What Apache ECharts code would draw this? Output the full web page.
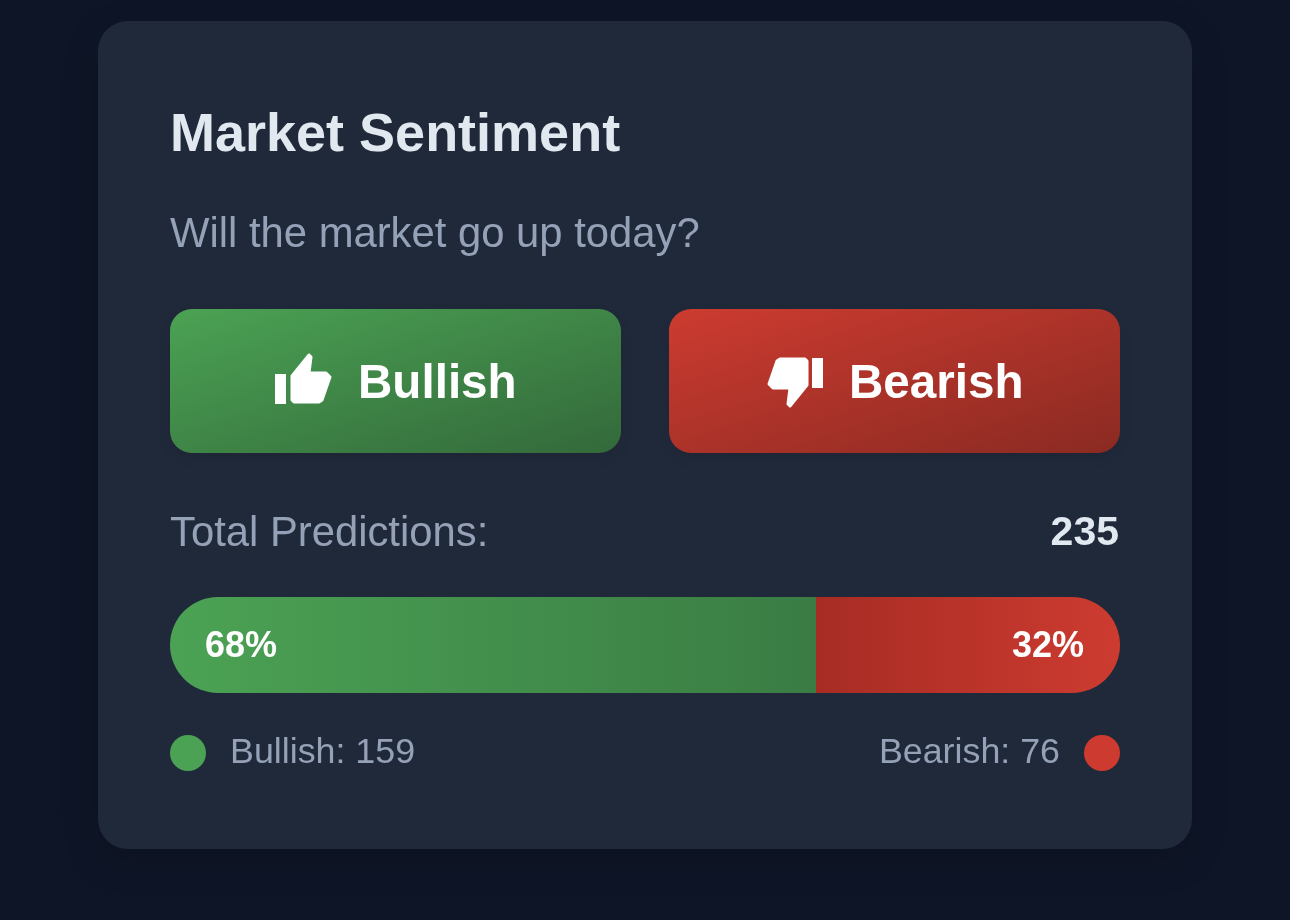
<!DOCTYPE html>
<html><head><meta charset="utf-8">
<style>html,body{margin:0;padding:0;background:#0e1526}#c{width:1290px;height:920px}</style>
<script src="https://cdn.jsdelivr.net/npm/echarts@6/dist/echarts.min.js"></script>
</head><body><div id="c"></div>
<script>
const titleText = 'Market Sentiment';
const questionText = 'Will the market go up today?';
const buttonLabels = ['Bullish', 'Bearish'];
const seriesNames = ['Bullish', 'Bearish'];
const sharePercent = [68, 32];
const voteCounts = [159, 76];
const totalLabel = 'Total Predictions:';
const totalValue = 235;

const FONT = '"Liberation Sans", Arial, sans-serif';
const grad = (x2, y2, a, b) => new echarts.graphic.LinearGradient(0, 0, x2, y2, [{offset:0,color:a},{offset:1,color:b}]);
const gradAbs = (x1, y1, x2, y2, a, b) => new echarts.graphic.LinearGradient(x1, y1, x2, y2, [{offset:0,color:a},{offset:1,color:b}], true);
const GREEN = '#4ba254', RED = '#cd3b30', MUTED = '#94a1b7', LIGHT = '#e2e8f0';
const chart = echarts.init(document.getElementById('c'), null, {renderer:'canvas', width:1290, height:920});
const txt = (x, y, text, size, weight, fill, align) => ({
  type:'text', x, y, silent:true,
  style:{text, font:`${weight} ${size}px ${FONT}`, fill, textAlign:align||'left', textVerticalAlign:'middle'}
});
const hand = (points) => ({type:'polygon', silent:true, shape:{points},
  style:{fill:'#fff', stroke:'#fff', lineWidth:3, lineJoin:'round'}});
chart.setOption({
  backgroundColor:'#0e1526',
  animation:false,
  title:[
    {text:titleText, left:170, top:109, padding:0, textStyle:{fontFamily:FONT, fontSize:54, fontWeight:'bold', color:LIGHT}},
    {text:questionText, left:170, top:214, padding:0, textStyle:{fontFamily:FONT, fontSize:41.8, fontWeight:'normal', color:MUTED}}
  ],
  graphic:[
    {type:'rect', z:-10, silent:true, shape:{x:98,y:21,width:1094,height:828,r:30},
      style:{fill:'#20293a', shadowBlur:40, shadowColor:'rgba(0,0,0,0.12)', shadowOffsetY:12}},
    {type:'rect', z:-9, silent:true, shape:{x:170,y:309,width:451,height:144,r:22},
      style:{fill:gradAbs(353.8,250.3,437.2,511.7,'#4ba254','#33693a'), shadowBlur:24, shadowColor:'rgba(0,0,0,0.10)', shadowOffsetY:6}},
    {type:'rect', z:-9, silent:true, shape:{x:669,y:309,width:451,height:144,r:22},
      style:{fill:gradAbs(852.8,250.3,936.2,511.7,'#cd3b30','#8a2a22'), shadowBlur:24, shadowColor:'rgba(0,0,0,0.10)', shadowOffsetY:6}},
    {type:'rect', silent:true, shape:{x:275,y:374,width:11,height:30}, style:{fill:'#fff'}},
    hand([[292,376],[309,355],[311,357],[309,373],[326,373],[330,377],[322,400],[319,402],[294,402],[292,400]]),
    {type:'rect', silent:true, shape:{x:812,y:358,width:11,height:30}, style:{fill:'#fff'}},
    hand([[807,385],[790,406],[788,404],[790,388],[773,388],[769,384],[777,361],[780,359],[805,359],[807,361]]),
    txt(358, 385, buttonLabels[0], 47.6, 'bold', '#ffffff'),
    txt(849, 385, buttonLabels[1], 47.6, 'bold', '#ffffff'),
    txt(170, 534, totalLabel, 41.8, 'normal', MUTED),
    txt(1119, 534, String(totalValue), 41, 'bold', LIGHT, 'right')
  ],
  legend:[
    {show:true, left:170, top:735, padding:0, orient:'horizontal', selectedMode:false, icon:'circle', itemWidth:36, itemHeight:36, itemGap:0,
      data:[{name:seriesNames[0], itemStyle:{color:GREEN}}],
      formatter:()=>`${seriesNames[0]}: ${voteCounts[0]}`,
      textStyle:{fontFamily:FONT, fontSize:35.8, color:MUTED, padding:[3,0,0,19]}},
    {show:true, right:170, top:735, padding:0, orient:'horizontal', align:'right', selectedMode:false, icon:'circle', itemWidth:36, itemHeight:36, itemGap:0,
      data:[{name:seriesNames[1], itemStyle:{color:RED}}],
      formatter:()=>`${seriesNames[1]}: ${voteCounts[1]}`,
      textStyle:{fontFamily:FONT, fontSize:35.8, color:MUTED, padding:[3,19,0,0]}}
  ],
  grid:{left:170, top:597, width:950, height:96, containLabel:false},
  xAxis:{type:'value', min:0, max:100, show:false},
  yAxis:{type:'category', data:['Sentiment'], show:false},
  tooltip:{show:false},
  series:[
    {name:seriesNames[0], type:'bar', stack:'s', barWidth:96, data:[sharePercent[0]], silent:true,
      itemStyle:{borderRadius:[48,0,0,48], color:grad(1,0,'#4ba254','#3a7c44')},
      label:{show:true, position:'insideLeft', distance:35, offset:[0,2], formatter:'{c}%', fontFamily:FONT, fontSize:36, fontWeight:'bold', color:'#ffffff'}},
    {name:seriesNames[1], type:'bar', stack:'s', barWidth:96, data:[sharePercent[1]], silent:true,
      itemStyle:{borderRadius:[0,48,48,0], color:grad(1,0,'#a72c24','#cd3b30')},
      label:{show:true, position:'insideRight', distance:36, offset:[0,2], formatter:'{c}%', fontFamily:FONT, fontSize:36, fontWeight:'bold', color:'#ffffff'}}
  ]
});
</script></body></html>
